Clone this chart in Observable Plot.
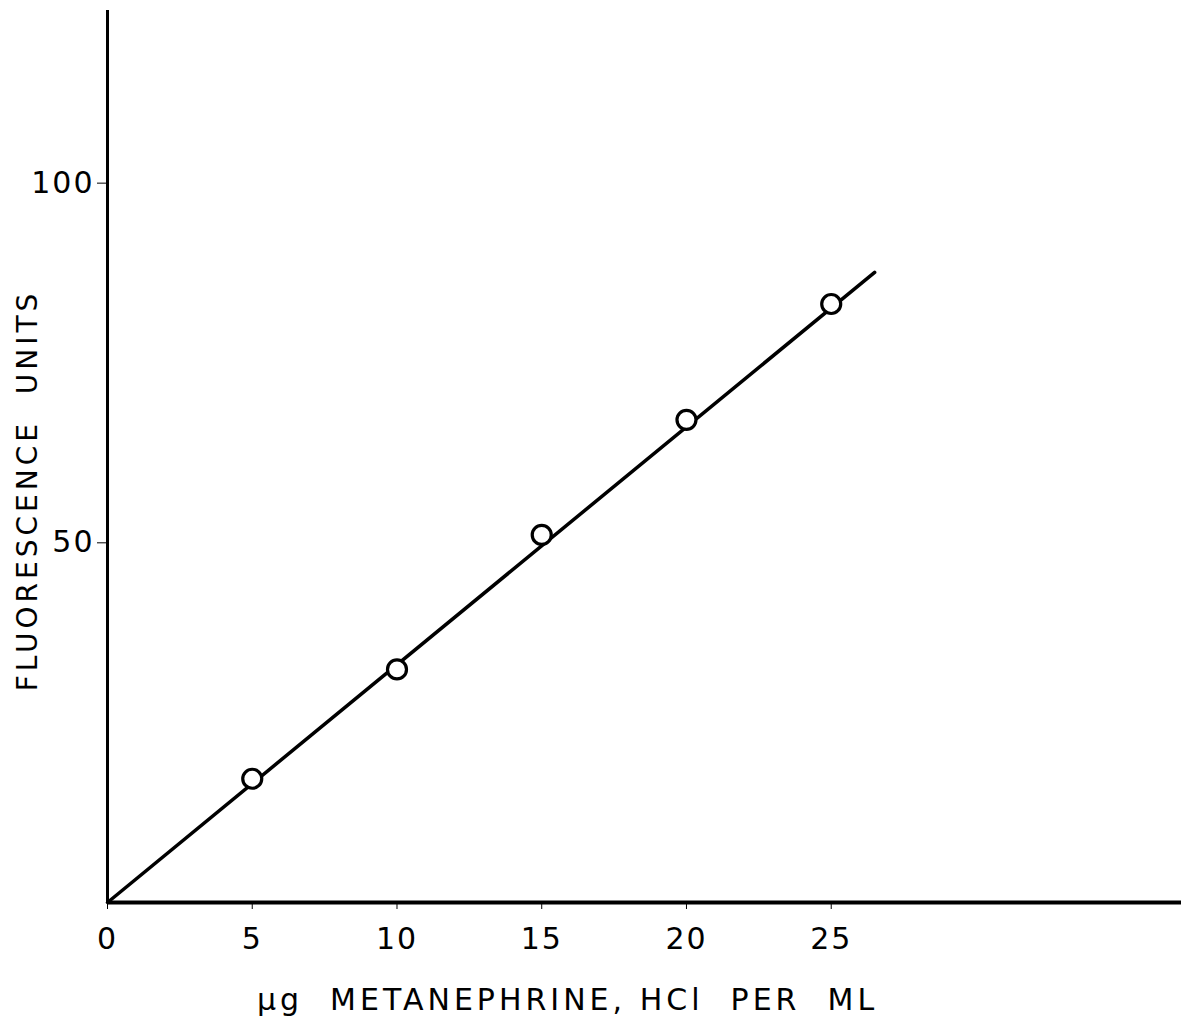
<!DOCTYPE html>
<html>
<head>
<meta charset="utf-8">
<script src="https://cdn.jsdelivr.net/npm/d3@7"></script>
<script src="https://cdn.jsdelivr.net/npm/@observablehq/plot@0.6"></script>
<style>
  html, body { margin: 0; padding: 0; background: #fff; }
  #chart svg { display: block; }
</style>
</head>
<body>
<div id="chart"></div>
<script>
// Standard curve: fluorescence vs. metanephrine concentration
const concentration = [5, 10, 15, 20, 25];
const fluorescence = [17.2, 32.4, 51.1, 67.1, 83.2];

// Fitted straight line through the origin
const fitConcentration = [0, 26.5];
const fitFluorescence = [0, 87.6];

const xTicks = [0, 5, 10, 15, 20, 25];
const yTicks = [50, 100];

const xLabel = "µg  METANEPHRINE, HCl  PER  ML";
const yLabel = "FLUORESCENCE  UNITS";

const points = concentration.map((c, i) => ({c, f: fluorescence[i]}));
const fit = fitConcentration.map((c, i) => ({c, f: fitFluorescence[i]}));

const font = "DejaVu Sans";

const chart = Plot.plot({
  width: 1181,
  height: 1016,
  marginLeft: 107,
  marginRight: 0,
  marginTop: 10,
  marginBottom: 114,
  style: {fontFamily: font, color: "#000", background: "#fff"},
  x: {domain: [0, 37.1]},
  y: {domain: [0, 124]},
  marks: [
    Plot.ruleX([0], {stroke: "#000", strokeWidth: 3}),
    Plot.ruleY([0], {stroke: "#000", strokeWidth: 4}),
    Plot.axisX({ticks: xTicks, tickSize: 7, tickPadding: 18, tickWidth: 2, fontSize: 30, label: null, stroke: "#000", fill: "#000"}),
    Plot.axisY({ticks: yTicks, tickSize: 10, tickPadding: 3, tickWidth: 2.5, fontSize: 30, label: null, stroke: "#000", fill: "#000"}),
    Plot.line(fit, {x: "c", y: "f", stroke: "#000", strokeWidth: 3.5}),
    Plot.dot(points, {x: "c", y: "f", r: 9.5, fill: "#fff", stroke: "#000", strokeWidth: 3.2}),
    Plot.text([xLabel], {
      frameAnchor: "bottom-left", textAnchor: "middle", dx: 460, dy: 107,
      fontSize: 30, fill: "#000", fontFamily: font
    }),
    Plot.text([yLabel], {
      frameAnchor: "left", rotate: -90, textAnchor: "middle", dx: -79, dy: 34,
      fontSize: 28, fill: "#000", fontFamily: font
    })
  ]
});

// Wide lettering on the tick labels and axis titles
chart.querySelectorAll("text").forEach(t => {
  t.style.whiteSpace = "pre";
  t.style.letterSpacing = "2px";
});
chart.querySelectorAll("g[aria-label=text] text").forEach(t => {
  t.style.letterSpacing = "4px";
});
document.getElementById("chart").append(chart);
</script>
</body>
</html>
